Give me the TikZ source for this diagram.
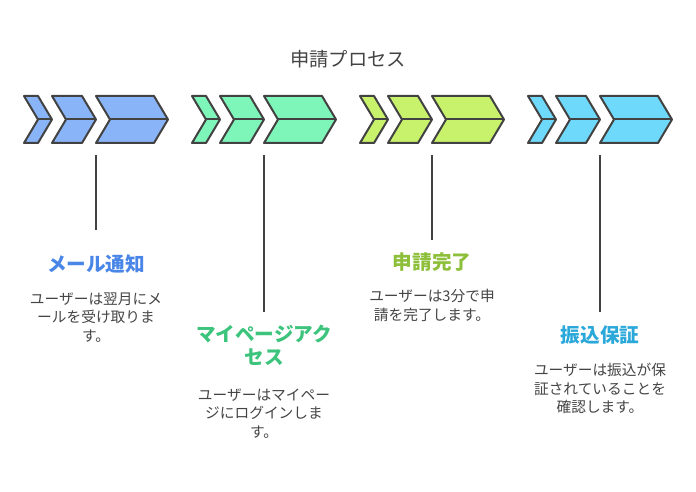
\documentclass[tikz,border=0pt]{standalone}
\usepackage{fontspec}
\setmainfont{Noto Sans CJK JP}
\definecolor{edge}{HTML}{424242}
\definecolor{txt}{HTML}{444444}
\definecolor{fblue}{HTML}{8AB4F8}
\definecolor{fgreen}{HTML}{7EF5B9}
\definecolor{flime}{HTML}{C8F26B}
\definecolor{fcyan}{HTML}{6FD9FB}
\definecolor{hblue}{HTML}{4A86E8}
\definecolor{hgreen}{HTML}{3CC47C}
\definecolor{hlime}{HTML}{8DBF3A}
\definecolor{hcyan}{HTML}{2BA8DA}
\tikzset{
  chevshape/.style={draw=edge, line width=2pt, line join=round},
  midline/.style={draw=edge, line width=2pt},
  stem/.style={draw=edge, line width=2pt},
  heading/.style={font=\fontsize{19.6}{23}\selectfont\bfseries, align=center, inner sep=0pt},
  desc/.style={font=\fontsize{14.7}{18.5}\selectfont, text=txt, align=center, inner sep=0pt},
  titletext/.style={font=\fontsize{19.3}{23}\selectfont, text=txt, inner sep=0pt}
}
% #1 group x, #2 offset, #3 width, #4 fill colour
\newcommand{\mychev}[4]{%
  \filldraw[chevshape, fill=#4] ({#1+#2},96) -- ({#1+#2+#3},96) -- ({#1+#2+#3+14},119.5) -- ({#1+#2+#3},143) -- ({#1+#2},143) -- ({#1+#2+14},119.5) -- cycle;
  \draw[midline] ({#1+#2+14},119.5) -- ({#1+#2+#3+14},119.5);
}
\newcommand{\mygroup}[2]{%
  \mychev{#1}{0}{14}{#2}
  \mychev{#1}{28}{30}{#2}
  \mychev{#1}{72}{58}{#2}
}
\begin{document}
\begin{tikzpicture}[x=1pt,y=-1pt]
\useasboundingbox (0,0) rectangle (696,492);
\node[titletext] (title) at (348,59) {申請プロセス};

\mygroup{24}{fblue}
\mygroup{192}{fgreen}
\mygroup{360}{flime}
\mygroup{528}{fcyan}

\coordinate (s1a) at (96,155);  \coordinate (s1b) at (96,230);
\coordinate (s2a) at (264,155); \coordinate (s2b) at (264,312);
\coordinate (s3a) at (432,155); \coordinate (s3b) at (432,240);
\coordinate (s4a) at (600,155); \coordinate (s4b) at (600,312);
\draw[stem] (s1a) -- (s1b);
\draw[stem] (s2a) -- (s2b);
\draw[stem] (s3a) -- (s3b);
\draw[stem] (s4a) -- (s4b);

\node[heading, text=hblue] (h1) at (96,264.5) {メール通知};
\node[heading, text=hgreen] (h2) at (264,345.5) {マイページアク\\セス};
\node[heading, text=hlime] (h3) at (432,262.5) {申請完了};
\node[heading, text=hcyan] (h4) at (600,335) {振込保証};

\node[desc] (d1) at (96,317.5) {ユーザーは翌月にメ\\ールを受け取りま\\す。};
\node[desc] (d2) at (264,413.5) {ユーザーはマイペー\\ジにログインしま\\す。};
\node[desc] (d3) at (432,305.5) {ユーザーは3分で申\\請を完了します。};
\node[desc] (d4) at (600,388.5) {ユーザーは振込が保\\証されていることを\\確認します。};
\end{tikzpicture}
\end{document}
